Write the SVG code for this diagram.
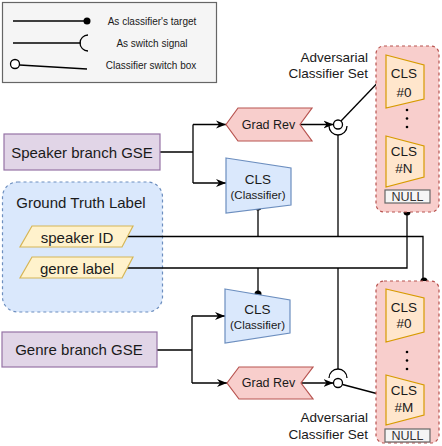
<svg xmlns="http://www.w3.org/2000/svg" width="442" height="446" viewBox="0 0 442 446">
<defs>
<style>
text{font-family:"Liberation Sans",Arial,Helvetica,sans-serif;fill:#1a1a1a;text-anchor:middle;dominant-baseline:central}
.ln{fill:none;stroke:#000;stroke-width:1.3}
.gse{fill:#e1d5e7;stroke:#9673a6;stroke-width:1.2}
.blue{fill:#dae8fc;stroke:#6c8ebf;stroke-width:1.2}
.red{fill:#f8cecc;stroke:#b85450;stroke-width:1.2}
.org{fill:#ffe6cc;stroke:#d79b00;stroke-width:1.2}
.yel{fill:#fff2cc;stroke:#d6b656;stroke-width:1.2}
.gray{fill:#f5f5f5;stroke:#666;stroke-width:1.2}
.dash{stroke-dasharray:3 3}
.dot{fill:#000}
.sw{fill:#fff;stroke:#000;stroke-width:1.3}
.f15{font-size:15px}
.f13{font-size:13.5px}
.f12{font-size:12.5px}
.f11{font-size:11.5px}
.f10{font-size:10px}
.adv{text-anchor:end;font-size:13.5px}
</style>
<marker id="arr" markerWidth="10" markerHeight="10" refX="10" refY="5" orient="auto" markerUnits="userSpaceOnUse">
<path d="M0,1 L10,5 L0,9 L3,5 Z" fill="#000"/>
</marker>
</defs>

<g id="legend">
<rect x="2.5" y="2.5" width="214" height="80" class="gray"/>
<line x1="13" y1="21" x2="87" y2="21" class="ln"/>
<circle cx="87" cy="21" r="3.5" class="dot"/>
<text x="152" y="21" class="f10">As classifier's target</text>
<line x1="13" y1="43" x2="81" y2="43" class="ln"/>
<path d="M88,35 A8,8 0 0 0 88,51" class="ln"/>
<text x="152" y="43" class="f10">As switch signal</text>
<circle cx="15" cy="64" r="4.5" class="sw"/>
<line x1="19.5" y1="65" x2="87" y2="69" class="ln"/>
<text x="151" y="65" class="f10">Classifier switch box</text>
</g>

<g id="ground-truth">
<rect x="2.5" y="182" width="160" height="130" rx="15" class="blue dash"/>
<text x="81" y="202" class="f15">Ground Truth Label</text>
</g>

<g id="connectors">
<line x1="160" y1="152" x2="193" y2="152" class="ln"/>
<line x1="193" y1="124.5" x2="193" y2="183" class="ln"/>
<line x1="193" y1="124.5" x2="226" y2="124.5" class="ln" marker-end="url(#arr)"/>
<line x1="193" y1="183" x2="226" y2="183" class="ln" marker-end="url(#arr)"/>
<line x1="157" y1="350" x2="192" y2="350" class="ln"/>
<line x1="192" y1="316" x2="192" y2="383" class="ln"/>
<line x1="192" y1="316" x2="225" y2="316" class="ln" marker-end="url(#arr)"/>
<line x1="192" y1="383" x2="227" y2="383" class="ln" marker-end="url(#arr)"/>
<line x1="300" y1="124.5" x2="333.5" y2="124.5" class="ln" marker-end="url(#arr)"/>
<line x1="301" y1="383" x2="333.5" y2="383" class="ln" marker-end="url(#arr)"/>
<polyline points="122,236.5 423,236.5 423,281" class="ln"/>
<polyline points="122,268 407,268 407,212" class="ln"/>
<line x1="258" y1="207" x2="258" y2="236.5" class="ln"/>
<line x1="258" y1="294" x2="258" y2="268" class="ln"/>
<line x1="338" y1="135" x2="338" y2="236.5" class="ln"/>
<line x1="338" y1="369" x2="338" y2="268" class="ln"/>
<path d="M329,126 A9,9 0 0 0 347,126" class="ln"/>
<path d="M329,378 A9,9 0 0 1 347,378" class="ln"/>
<line x1="341" y1="121" x2="387" y2="73" class="ln"/>
<line x1="342.5" y1="384.5" x2="386" y2="396" class="ln"/>
<circle cx="338" cy="124.5" r="4.5" class="sw"/>
<circle cx="338" cy="383" r="4.5" class="sw"/>
<circle cx="258" cy="207" r="3.5" class="dot"/>
<circle cx="258" cy="294" r="3.5" class="dot"/>
<circle cx="407" cy="212" r="3.5" class="dot"/>
<circle cx="424" cy="281" r="3.5" class="dot"/>
</g>

<g id="speaker-gse">
<rect x="4" y="134" width="156" height="36" class="gse"/>
<text x="82" y="152" class="f15">Speaker branch GSE</text>
</g>

<g id="genre-gse">
<rect x="2" y="332" width="155" height="35" class="gse"/>
<text x="79" y="349.5" class="f15">Genre branch GSE</text>
</g>

<g id="speaker-id">
<polygon points="32,226 133,226 122,247 20,247" class="yel"/>
<text x="77" y="237" class="f15">speaker ID</text>
</g>

<g id="genre-label">
<polygon points="32,257 133,257 122,278 20,278" class="yel"/>
<text x="77" y="268" class="f15">genre label</text>
</g>

<g id="grad-rev-upper">
<polygon points="226,124.5 238,108 312,108 300,124.5 312,141 238,141" class="red"/>
<text x="268.5" y="124.5" class="f12">Grad Rev</text>
</g>

<g id="grad-rev-lower">
<polygon points="227,383 239,367 313,367 301,383 313,399 239,399" class="red"/>
<text x="268.5" y="383" class="f12">Grad Rev</text>
</g>

<g id="cls-upper">
<polygon points="226,158 291,168 291,205 226,213" class="blue"/>
<text x="258" y="179" class="f13">CLS</text>
<text x="258" y="194.5" class="f11">(Classifier)</text>
</g>

<g id="cls-lower">
<polygon points="225,289 290,300 290,333 225,343" class="blue"/>
<text x="257.5" y="309.5" class="f13">CLS</text>
<text x="257.5" y="325" class="f11">(Classifier)</text>
</g>

<g id="adv-set-upper">
<rect x="376" y="46" width="63" height="166" rx="8" class="red dash"/>
<text x="368" y="57" class="adv">Adversarial</text>
<text x="368" y="73.5" class="adv">Classifier Set</text>
<polygon points="386,55 424,65 424,99 386,108" class="org"/>
<text x="404" y="73" class="f13">CLS</text>
<text x="404" y="92" class="f13">#0</text>
<circle cx="407" cy="110" r="1.3" class="dot"/>
<circle cx="407" cy="118.5" r="1.3" class="dot"/>
<circle cx="407" cy="127" r="1.3" class="dot"/>
<polygon points="386,136 424,146 424,177 386,187" class="org"/>
<text x="404" y="151" class="f13">CLS</text>
<text x="404" y="168.5" class="f13">#N</text>
<rect x="385" y="190" width="45" height="13" class="gray"/>
<text x="407.5" y="197" class="f12" style="fill:#333">NULL</text>
</g>

<g id="adv-set-lower">
<rect x="376" y="281" width="63" height="162" rx="8" class="red dash"/>
<text x="368" y="417" class="adv">Adversarial</text>
<text x="368" y="434" class="adv">Classifier Set</text>
<polygon points="386,289 424,298 424,332 386,342" class="org"/>
<text x="404" y="307.5" class="f13">CLS</text>
<text x="404" y="323.5" class="f13">#0</text>
<circle cx="407" cy="352" r="1.3" class="dot"/>
<circle cx="407" cy="360.5" r="1.3" class="dot"/>
<circle cx="407" cy="369" r="1.3" class="dot"/>
<polygon points="386,375 424,385 424,415 386,425" class="org"/>
<text x="404" y="390.5" class="f13">CLS</text>
<text x="404" y="407" class="f13">#M</text>
<rect x="385" y="429" width="45" height="13" class="gray"/>
<text x="407.5" y="436" class="f12" style="fill:#333">NULL</text>
</g>
</svg>
